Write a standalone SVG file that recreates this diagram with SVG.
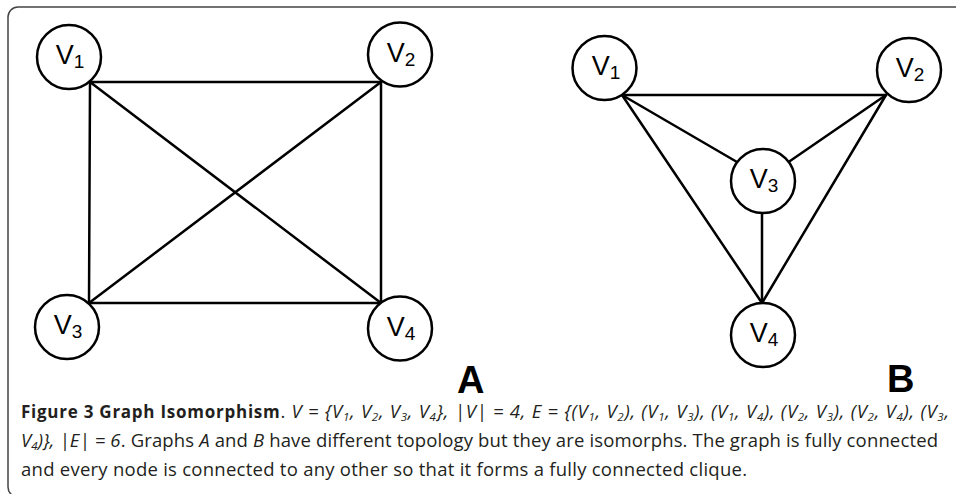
<svg xmlns="http://www.w3.org/2000/svg" width="956" height="494" viewBox="0 0 956 494">
<style>
.node circle{fill:#fff;stroke:#000;stroke-width:2.5}
.node text{font-family:"Liberation Sans",Arial,sans-serif;font-size:27px;fill:#000;text-anchor:middle}
.sub{font-size:19px}
.edges line{stroke:#000;stroke-width:2.5;stroke-linecap:round}
.big{font-family:"Liberation Sans",Arial,sans-serif;font-size:38px;font-weight:bold;fill:#000}
.cap{font-family:"Open Sans","Noto Sans",sans-serif;font-size:18.5px;fill:#231f20}
.cs{font-size:11.5px}
</style>
<rect x="8" y="7" width="990" height="490" rx="10" fill="none" stroke="#444" stroke-width="1.5"/>
<g id="connectors" class="edges">
<line x1="90" y1="82" x2="381" y2="82"/>
<line x1="90" y1="82" x2="89" y2="303"/>
<line x1="90" y1="82" x2="381" y2="303"/>
<line x1="381" y1="82" x2="89" y2="303"/>
<line x1="381" y1="82" x2="381" y2="303"/>
<line x1="89" y1="303" x2="381" y2="303"/>
<line x1="622" y1="95" x2="886" y2="95"/>
<line x1="622" y1="95" x2="737" y2="162"/>
<line x1="886" y1="95" x2="790" y2="161"/>
<line x1="622" y1="95" x2="762" y2="303"/>
<line x1="886" y1="95" x2="762" y2="303"/>
<line x1="762" y1="212" x2="762" y2="303"/>
</g>
<g id="A_V1" class="node"><circle cx="69" cy="57" r="32"/><text x="70" y="64">V<tspan class="sub" dy="4">1</tspan></text></g>
<g id="A_V2" class="node"><circle cx="400" cy="54.5" r="32"/><text x="401" y="62">V<tspan class="sub" dy="4">2</tspan></text></g>
<g id="A_V3" class="node"><circle cx="67" cy="327" r="32"/><text x="68" y="334">V<tspan class="sub" dy="4">3</tspan></text></g>
<g id="A_V4" class="node"><circle cx="400" cy="328.5" r="32"/><text x="401" y="336">V<tspan class="sub" dy="4">4</tspan></text></g>
<g id="B_V1" class="node"><circle cx="604.5" cy="68" r="32"/><text x="606" y="75">V<tspan class="sub" dy="4">1</tspan></text></g>
<g id="B_V2" class="node"><circle cx="909" cy="70" r="32"/><text x="910" y="77">V<tspan class="sub" dy="4">2</tspan></text></g>
<g id="B_V3" class="node"><circle cx="763" cy="181" r="32"/><text x="764" y="188">V<tspan class="sub" dy="4">3</tspan></text></g>
<g id="B_V4" class="node"><circle cx="763" cy="335" r="32"/><text x="764" y="342">V<tspan class="sub" dy="4">4</tspan></text></g>
<text class="big" x="457" y="393">A</text>
<text class="big" x="887" y="392">B</text>
<g id="caption" class="cap">
<text x="21" y="418" textLength="928" lengthAdjust="spacing"><tspan font-weight="bold" font-size="17px">Figure 3 Graph Isomorphism</tspan>. <tspan font-style="italic">V = {V<tspan class="cs" baseline-shift="-3">1</tspan>, V<tspan class="cs" baseline-shift="-3">2</tspan>, V<tspan class="cs" baseline-shift="-3">3</tspan>, V<tspan class="cs" baseline-shift="-3">4</tspan>}, |V| = 4, E = {(V<tspan class="cs" baseline-shift="-3">1</tspan>, V<tspan class="cs" baseline-shift="-3">2</tspan>), (V<tspan class="cs" baseline-shift="-3">1</tspan>, V<tspan class="cs" baseline-shift="-3">3</tspan>), (V<tspan class="cs" baseline-shift="-3">1</tspan>, V<tspan class="cs" baseline-shift="-3">4</tspan>), (V<tspan class="cs" baseline-shift="-3">2</tspan>, V<tspan class="cs" baseline-shift="-3">3</tspan>), (V<tspan class="cs" baseline-shift="-3">2</tspan>, V<tspan class="cs" baseline-shift="-3">4</tspan>), (V<tspan class="cs" baseline-shift="-3">3</tspan>,</tspan></text>
<text x="21" y="447" textLength="917" lengthAdjust="spacing"><tspan font-style="italic">V<tspan class="cs" baseline-shift="-3">4</tspan>)}, |E| = 6</tspan>. Graphs <tspan font-style="italic">A</tspan> and <tspan font-style="italic">B</tspan> have different topology but they are isomorphs. The graph is fully connected</text>
<text x="21" y="476" textLength="726" lengthAdjust="spacing">and every node is connected to any other so that it forms a fully connected clique.</text>
</g>
</svg>
